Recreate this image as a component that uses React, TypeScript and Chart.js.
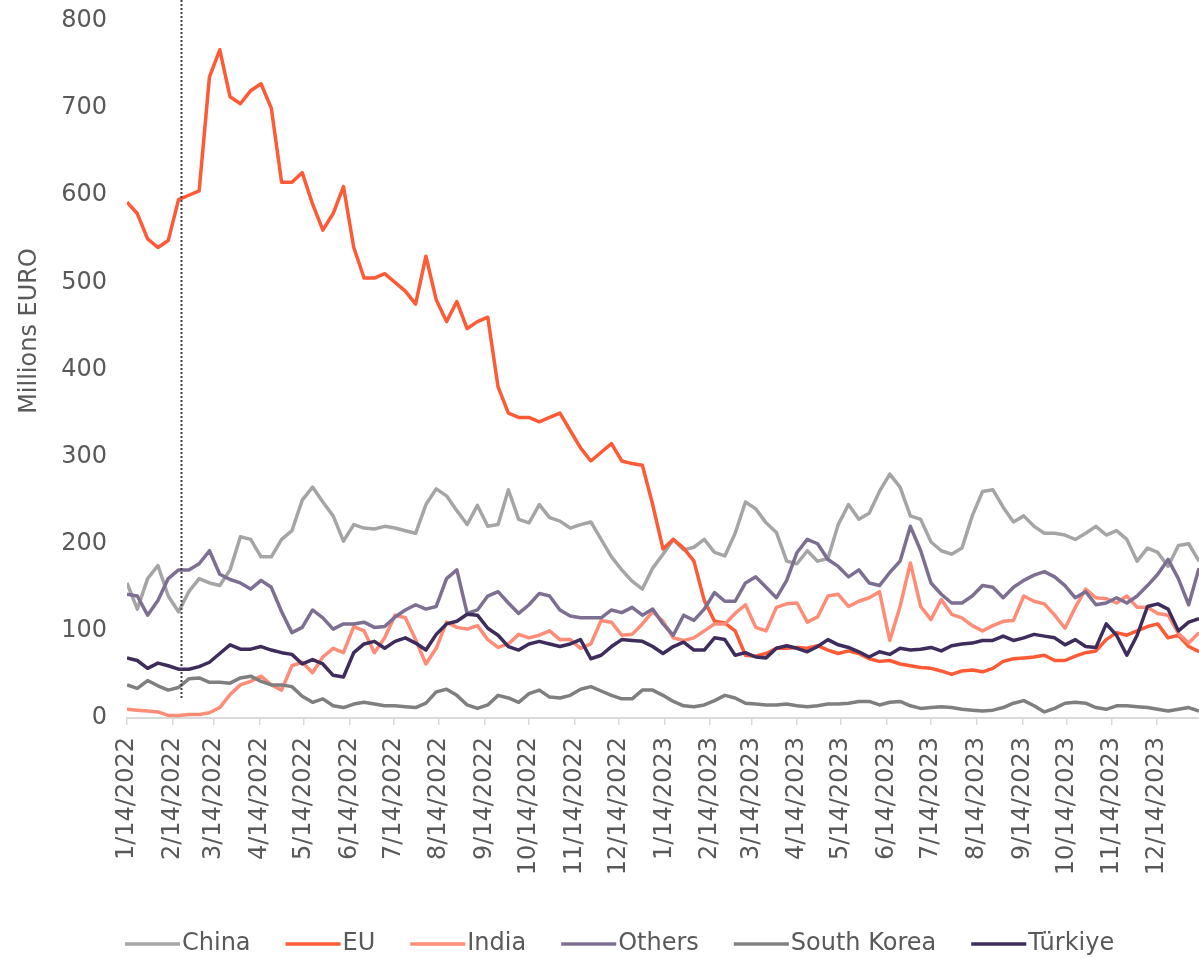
import React, { useEffect, useRef } from 'react';
import { Chart, registerables } from 'chart.js';

Chart.register(...registerables);

const START_DATE = '1/14/2022';
const STEP_DAYS = 7;

const TICK_LABELS = [
  '1/14/2022', '2/14/2022', '3/14/2022', '4/14/2022', '5/14/2022', '6/14/2022',
  '7/14/2022', '8/14/2022', '9/14/2022', '10/14/2022', '11/14/2022', '12/14/2022',
  '1/14/2023', '2/14/2023', '3/14/2023', '4/14/2023', '5/14/2023', '6/14/2023',
  '7/14/2023', '8/14/2023', '9/14/2023', '10/14/2023', '11/14/2023', '12/14/2023',
];

const SERIES_NAMES = ['China', 'EU', 'India', 'Others', 'South Korea', 'Türkiye'];
const SERIES_COLORS = ['#a5a5a5', '#ff5a36', '#ff8c77', '#7d6f92', '#7f7f7f', '#3d2c5c'];

// weekly readings (Millions EURO), starting 1/14/2022
const CHINA = [
  155, 125, 160, 175, 140, 122, 145, 160, 155, 152,
  170, 208, 205, 185, 185, 205, 215, 250, 265, 248,
  232, 203, 222, 218, 217, 220, 218, 215, 212, 245,
  263, 255, 238, 222, 244, 220, 222, 262, 228, 224,
  245, 230, 226, 218, 222, 225, 205, 185, 170, 157,
  148, 172, 188, 205, 193, 196, 205, 190, 186, 212,
  248, 240, 224, 213, 180, 177, 192, 180, 183, 222,
  245, 228, 235, 260, 280, 265, 232, 228, 202, 192,
  188, 195, 232, 260, 262, 242, 225, 232, 220, 212,
  212, 210, 205, 212, 220, 210, 215, 205, 180, 195,
  190, 174, 198, 200, 180,
];

const EU = [
  592, 579, 550, 540, 548, 595, 600, 605, 736, 767,
  713, 705, 720, 728, 700, 615, 615, 626, 590, 560,
  579, 610, 540, 505, 505, 510, 500, 490, 475, 530,
  480, 455, 478, 447, 455, 460, 380, 350, 345, 345,
  340, 345, 350, 330, 310, 295, 305, 315, 295, 292,
  290, 245, 194, 205, 195, 180, 135, 111, 109, 100,
  72, 71, 74, 80, 80, 81, 80, 83, 78, 74,
  77, 74, 68, 65, 66, 62, 60, 58, 57, 54,
  50, 54, 55, 53, 57, 65, 68, 69, 70, 72,
  66, 66, 71, 75, 77, 90, 98, 95, 100, 105,
  108, 92, 95, 82, 76,
];

const INDIA = [
  10, 9, 8, 7, 3, 3, 4, 4, 6, 12,
  27, 38, 42, 48, 38, 32, 60, 64, 52, 70,
  80, 75, 105, 100, 75, 92, 118, 115, 90, 62,
  80, 110, 104, 102, 106, 90, 81, 85, 96, 92,
  95, 100, 90, 90, 80, 85, 112, 110, 95, 96,
  108, 122, 111, 92, 89, 92, 100, 108, 108, 120,
  130, 104, 100, 127, 131, 132, 110, 116, 140, 142,
  128, 134, 138, 145, 89, 128, 178, 128, 113, 136,
  119, 115, 106, 100, 106, 111, 112, 140, 134, 131,
  118, 103, 127, 148, 138, 137, 132, 140, 127, 127,
  120, 118, 97, 86, 98,
];

const OTHERS = [
  142, 140, 118, 135, 160, 170, 170, 177, 192, 165,
  159, 155, 148, 158, 150, 122, 98, 104, 124, 115,
  102, 108, 108, 110, 104, 105, 116, 124, 130, 125,
  128, 160, 170, 120, 124, 140, 145, 132, 120, 130,
  143, 140, 124, 117, 115, 115, 115, 124, 121, 127,
  118, 125, 108, 95, 118, 112, 125, 144, 134, 134,
  155, 162, 150, 138, 158, 190, 205, 200, 182, 174,
  162, 170, 155, 152, 167, 180, 220, 192, 155, 142,
  132, 132, 140, 152, 150, 138, 150, 158, 164, 168,
  162, 152, 138, 145, 130, 132, 138, 132, 140, 152,
  165, 182, 160, 130, 172,
];

const SOUTH_KOREA = [
  38, 34, 43, 37, 32, 35, 45, 46, 41, 41,
  40, 46, 48, 42, 38, 38, 36, 25, 18, 22,
  14, 12, 16, 18, 16, 14, 14, 13, 12, 17,
  30, 33, 26, 15, 11, 15, 26, 23, 18, 28,
  32, 24, 23, 26, 33, 36, 31, 26, 22, 22,
  32, 32, 26, 19, 14, 13, 15, 20, 26, 23,
  17, 16, 15, 15, 16, 14, 13, 14, 16, 16,
  17, 19, 19, 15, 18, 19, 14, 11, 12, 13,
  12, 10, 9, 8, 9, 12, 17, 20, 14, 7,
  11, 17, 18, 17, 12, 10, 14, 14, 13, 12,
  10, 8, 10, 12, 8,
];

const TURKIYE = [
  69, 66, 57, 63, 60, 56, 56, 59, 64, 74,
  84, 79, 79, 82, 78, 75, 73, 62, 67, 62,
  49, 47, 75, 85, 88, 80, 88, 92, 86, 78,
  96, 108, 111, 119, 118, 103, 95, 82, 78, 85,
  88, 85, 82, 85, 90, 68, 72, 82, 90, 89,
  88, 82, 74, 82, 87, 78, 78, 92, 90, 72,
  75, 70, 69, 80, 83, 80, 76, 82, 90, 84,
  81, 76, 70, 76, 73, 80, 78, 79, 81, 77,
  83, 85, 86, 89, 89, 94, 89, 92, 96, 94,
  92, 84, 90, 82, 81, 108, 95, 72, 95, 128,
  131, 125, 100, 110, 114,
];

const SERIES_VALUES = [CHINA, EU, INDIA, OTHERS, SOUTH_KOREA, TURKIYE];

// dotted reference line (date, value range)
const MARKER_DATE = '2/20/2022';
const MARKER_RANGE = [23, 824];

const Y_MIN = 0;
const Y_MAX = 800;
const Y_STEP = 100;

const TEXT_COLOR = '#595959';
const FONT = 'DejaVu Sans';

function parseDate(s: string): number {
  const [m, d, y] = s.split('/').map(Number);
  return Date.UTC(y, m - 1, d);
}
function dayOf(s: string): number {
  return Math.round((parseDate(s) - parseDate(START_DATE)) / 86400000);
}

const TICK_DAYS = TICK_LABELS.map(dayOf);

const legendPlugin = {
  id: 'customLegend',
  afterDraw(chart: any) {
    const ctx = chart.ctx;
    ctx.save();
    ctx.font = `24px "${FONT}"`;
    ctx.textBaseline = 'middle';
    ctx.textAlign = 'left';
    let x = 125;
    const y = 944;
    chart.data.datasets.forEach((ds: any) => {
      if (ds.isMarker) return;
      ctx.strokeStyle = ds.borderColor;
      ctx.lineWidth = 3.5;
      ctx.beginPath();
      ctx.moveTo(x, y);
      ctx.lineTo(x + 55, y);
      ctx.stroke();
      ctx.fillStyle = TEXT_COLOR;
      ctx.fillText(ds.label, x + 57, y);
      x += 57 + ctx.measureText(ds.label).width + 35;
    });
    ctx.restore();
  },
};

const yTitlePlugin = {
  id: 'yTitle',
  afterDraw(chart: any) {
    const ctx = chart.ctx;
    ctx.save();
    ctx.translate(30, 331);
    ctx.rotate(-Math.PI / 2);
    ctx.font = `24px "${FONT}"`;
    ctx.fillStyle = TEXT_COLOR;
    ctx.textAlign = 'center';
    ctx.textBaseline = 'middle';
    ctx.fillText('Millions EURO', 0, 0);
    ctx.restore();
  },
};

export default function App() {
  const canvasRef = useRef<HTMLCanvasElement | null>(null);

  useEffect(() => {
    if (!canvasRef.current) return;
    Chart.defaults.font.family = FONT;
    const datasets: any[] = SERIES_NAMES.map((name, i) => ({
      label: name,
      data: SERIES_VALUES[i].map((v, j) => ({ x: j * STEP_DAYS, y: v })),
      borderColor: SERIES_COLORS[i],
      backgroundColor: SERIES_COLORS[i],
      borderWidth: 3.5,
      borderJoinStyle: 'round',
      pointRadius: 0,
      tension: 0,
      fill: false,
      order: SERIES_NAMES.length - i + 1,
    }));
    const md = dayOf(MARKER_DATE);
    datasets.push({
      label: 'marker',
      isMarker: true,
      data: [{ x: md, y: MARKER_RANGE[0] }, { x: md, y: MARKER_RANGE[1] }],
      borderColor: '#404040',
      borderWidth: 2,
      borderDash: [2, 2],
      pointRadius: 0,
      clip: false,
      order: 0,
    });

    const chart = new Chart(canvasRef.current, {
      type: 'line',
      data: { datasets },
      options: {
        responsive: false,
        animation: false,
        layout: { padding: { top: 21, left: 0, right: 0, bottom: 0 } },
        plugins: {
          legend: { display: false },
          tooltip: { enabled: false },
          title: { display: false },
        },
        scales: {
          x: {
            type: 'linear',
            min: 0,
            max: (CHINA.length - 1) * STEP_DAYS,
            afterBuildTicks: (scale: any) => {
              scale.ticks = TICK_DAYS.map((v) => ({ value: v }));
            },
            afterFit: (scale: any) => {
              scale.height = 240;
              scale.paddingTop = 0;
              scale.paddingBottom = 0;
            },
            ticks: {
              autoSkip: false,
              minRotation: 90,
              maxRotation: 90,
              padding: 12,
              color: TEXT_COLOR,
              font: { size: 24, family: FONT },
              callback: (_v: any, i: number) => TICK_LABELS[i],
            },
            grid: {
              display: true,
              drawOnChartArea: false,
              drawTicks: true,
              tickLength: 7,
              color: '#d9d9d9',
              lineWidth: 1.5,
            },
            border: { display: true, color: '#d9d9d9', width: 2 },
          },
          y: {
            type: 'linear',
            min: Y_MIN,
            max: Y_MAX,
            afterFit: (scale: any) => {
              scale.width = 127;
              scale.paddingTop = 0;
              scale.paddingBottom = 0;
            },
            ticks: {
              stepSize: Y_STEP,
              padding: 20,
              color: TEXT_COLOR,
              font: { size: 24, family: FONT },
            },
            grid: { display: false, drawTicks: false },
            border: { display: false },
          },
        },
      } as any,
      plugins: [legendPlugin, yTitlePlugin],
    });
    return () => chart.destroy();
  }, []);

  return (
    <div style={{ position: 'absolute', left: 0, top: 0, width: 1199, height: 958, background: '#fff' }}>
      <canvas ref={canvasRef} width={1199} height={958} />
    </div>
  );
}
